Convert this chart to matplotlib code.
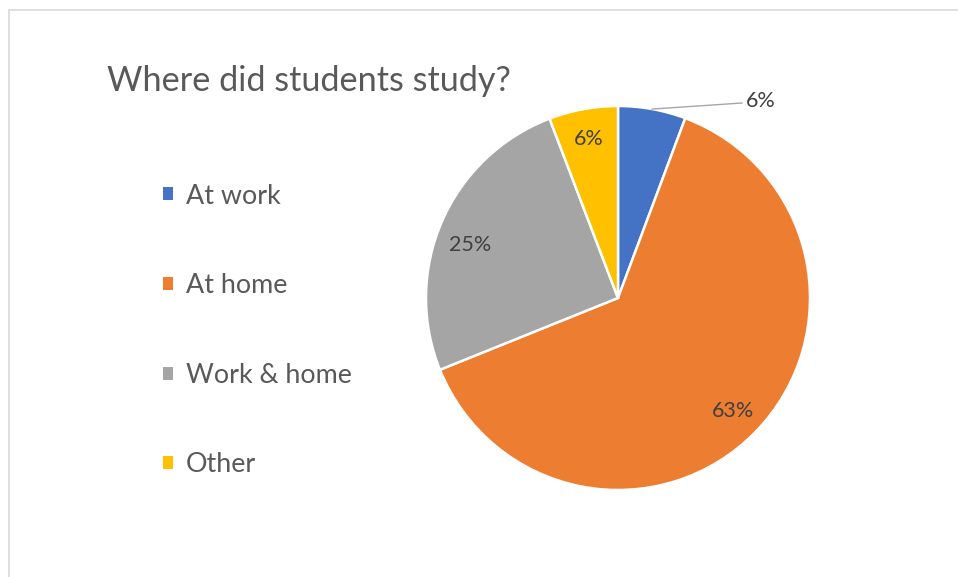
import matplotlib
matplotlib.use("Agg")
import matplotlib.pyplot as plt
import numpy as np
from matplotlib.patches import Rectangle

categories = ["At work", "At home", "Work & home", "Other"]
values = [5.7, 63.2, 25.3, 5.8]
colors = ["#4472C4", "#ED7D31", "#A5A5A5", "#FFC000"]
title = "Where did students study?"

W, H = 958, 577
fig = plt.figure(figsize=(W / 100, H / 100), dpi=100)
ax = fig.add_axes([0, 0, 1, 1])
ax.set_xlim(0, W)
ax.set_ylim(0, H)
ax.set_aspect("equal")
ax.axis("off")

# chart frame
ax.add_patch(Rectangle((9.5, -20), W + 20, H - 9.5 + 20, fill=False,
                       edgecolor="#D9D9D9", linewidth=1.2))

font = "Lato"
cx, cy, r = 618, H - 298, 192
wedges, texts, autotexts = ax.pie(
    values, colors=colors, startangle=90, counterclock=False,
    center=(cx, cy), radius=r, autopct="%.0f%%", pctdistance=0.84,
    wedgeprops=dict(edgecolor="white", linewidth=1.8),
    textprops=dict(fontsize=15.5, color="#404040", family=font),
    frame=True)
ax.set_xlim(0, W)
ax.set_ylim(0, H)
ax.axis("off")

# first label outside with leader line
w0 = wedges[0]
mid = np.deg2rad((w0.theta1 + w0.theta2) / 2)
px, py = cx + r * np.cos(mid), cy + r * np.sin(mid)
ex, ey = 742, H - 103
ax.plot([px, ex], [py, ey], color="#A6A6A6", linewidth=1.0)
autotexts[0].set_position((ex + 4, ey + 2))
autotexts[0].set_ha("left")

# best-fit style placement for the grey slice label
x2, y2 = autotexts[2].get_position()
autotexts[2].set_position((x2, y2 - 12))

fig.text(107 / W, 1 - 81 / H, title, fontsize=24.7, color="#595959",
         family=font, ha="left", va="center")

leg = fig.legend(wedges, categories, loc="center left",
                 bbox_to_anchor=(163 / W, 1 - 330.5 / H), frameon=False,
                 prop=dict(family=font, size=19.4), labelcolor="#595959",
                 handlelength=0.38, handleheight=0.38, handletextpad=0.48,
                 labelspacing=2.4, borderpad=0, borderaxespad=0)
for h in leg.legend_handles:
    h.set_edgecolor("none")

fig.savefig("out.png", dpi=100, facecolor="white")
